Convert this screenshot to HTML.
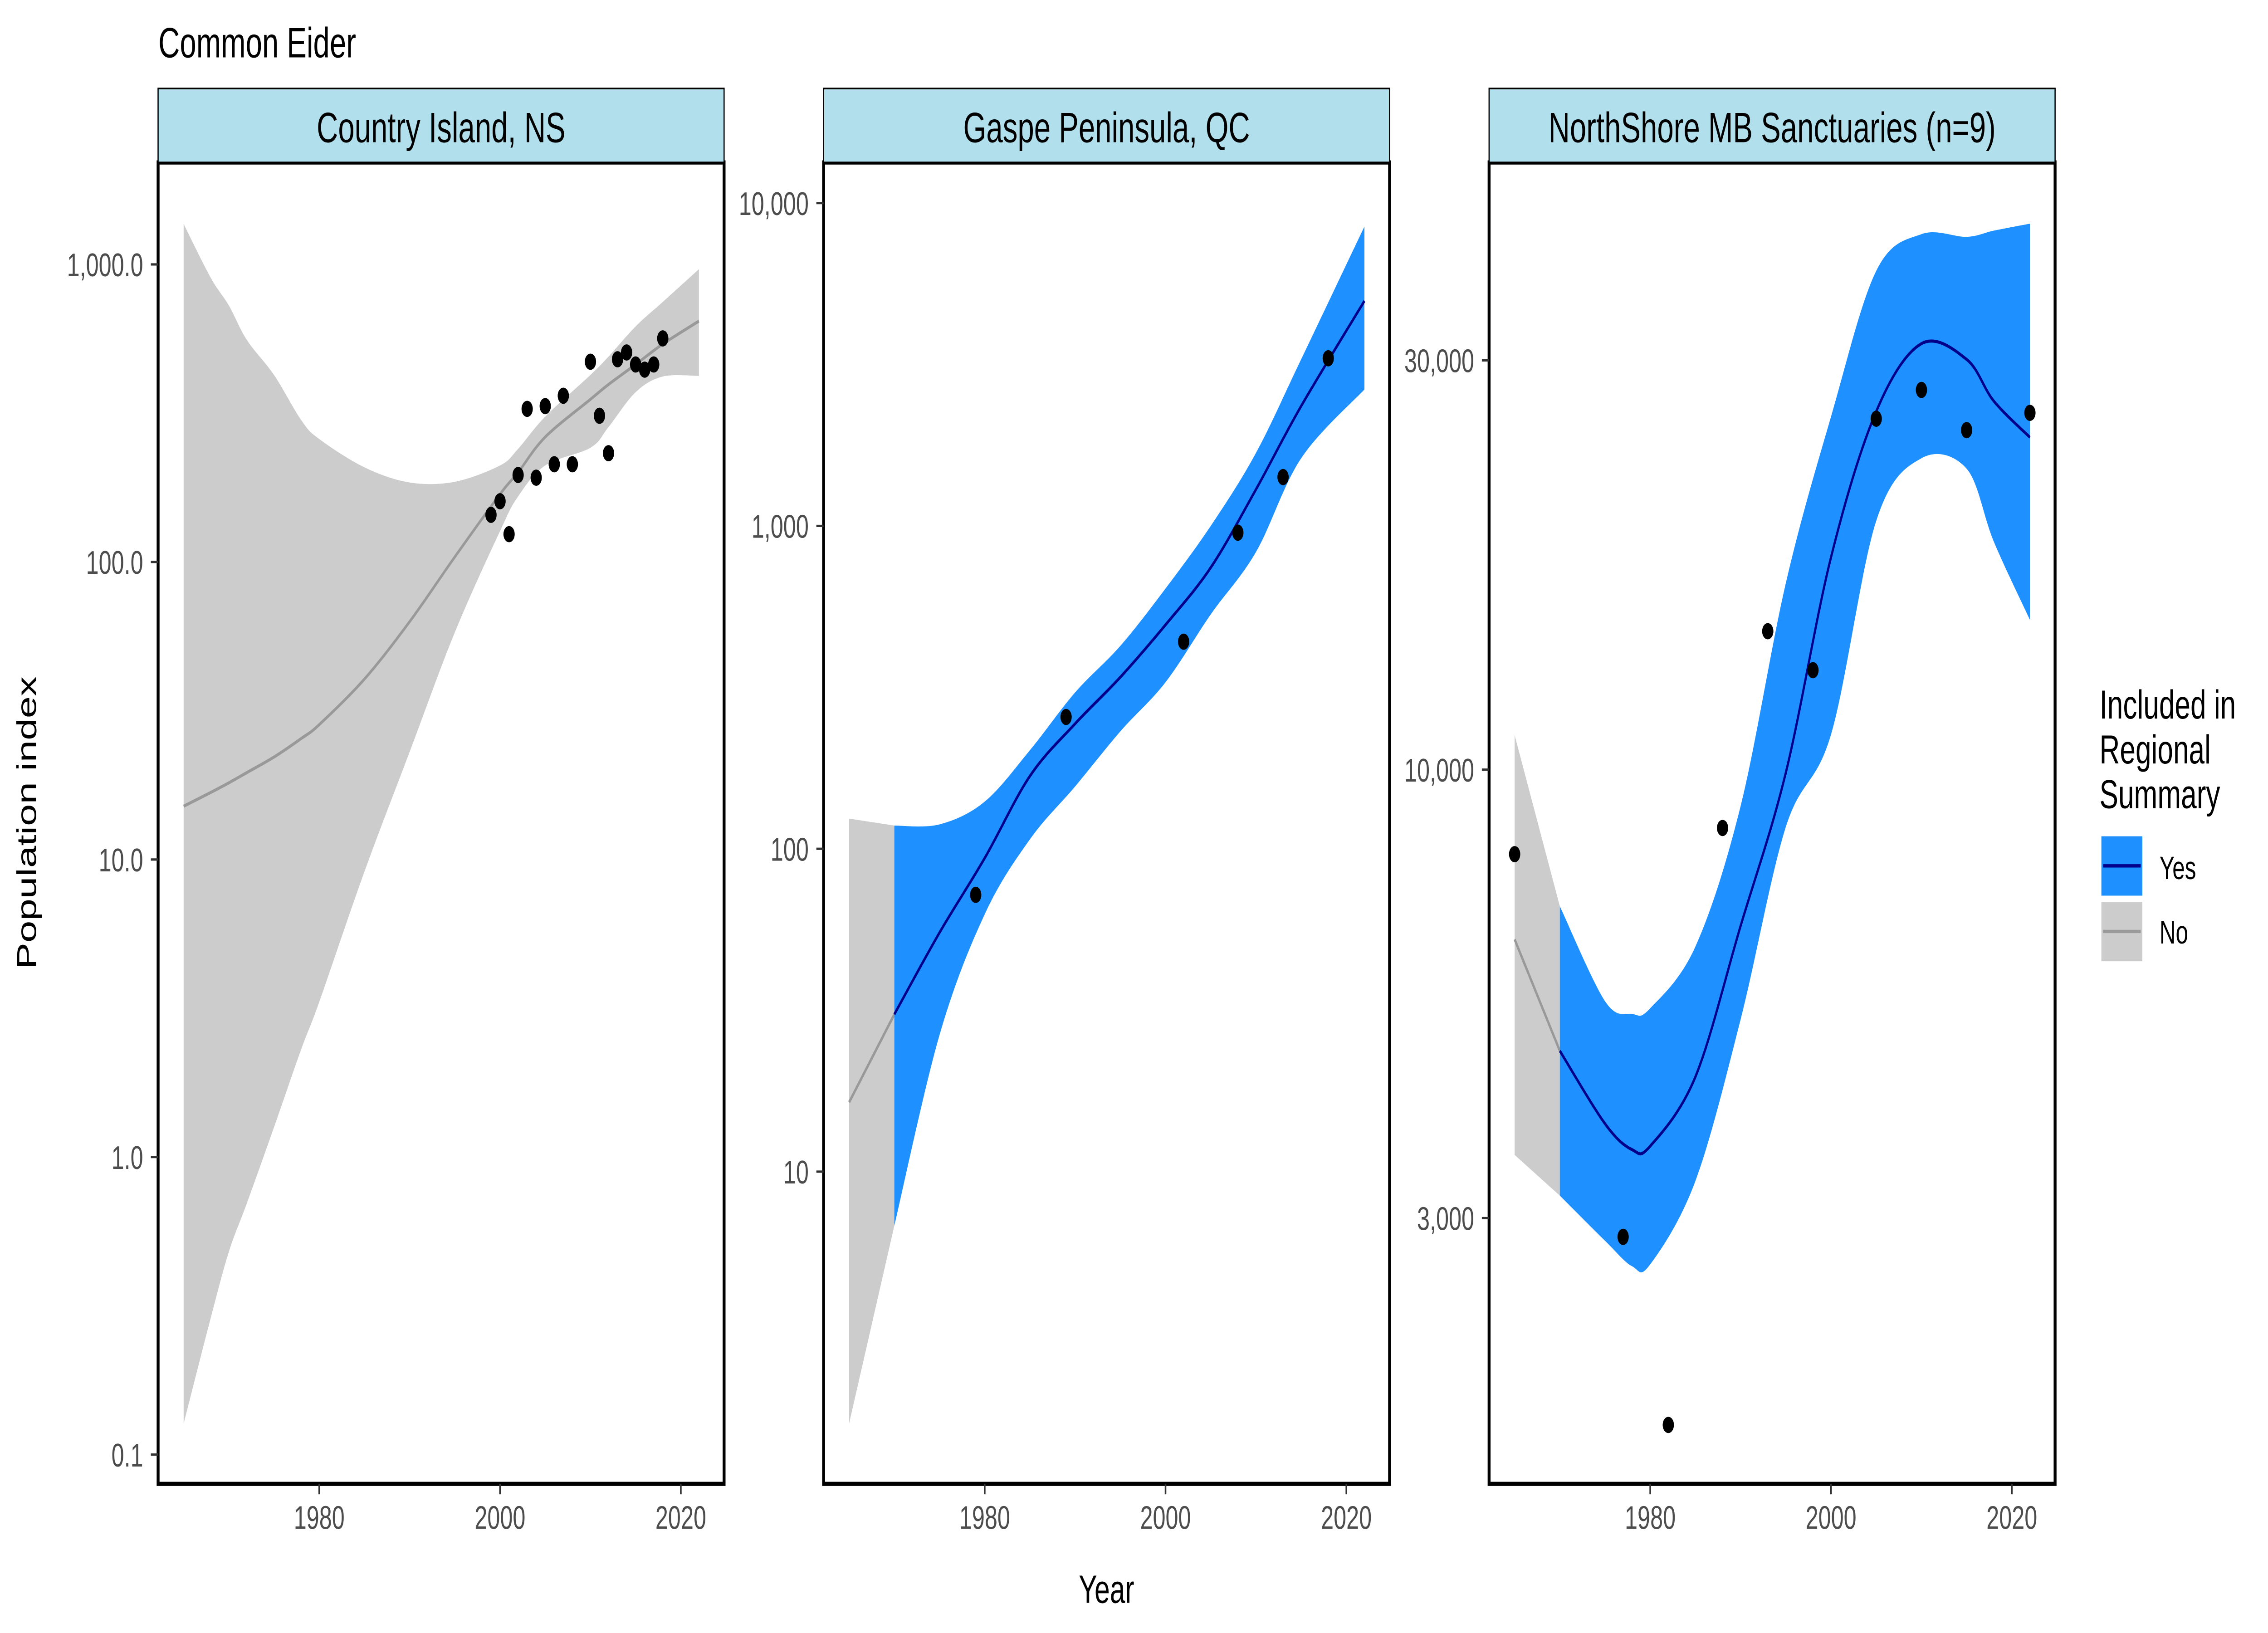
<!DOCTYPE html>
<html><head><meta charset="utf-8"><title>Common Eider</title>
<style>
html,body{margin:0;padding:0;background:#fff;overflow:hidden;width:100vw;height:100vh;}
svg{display:block;width:100vw;height:100vh;font-family:"Liberation Sans",Arial,sans-serif;}
</style></head>
<body>
<svg id="chart" xmlns="http://www.w3.org/2000/svg" viewBox="0 0 1568 784" preserveAspectRatio="none">
<rect x="0" y="0" width="1568" height="784" fill="#ffffff"/>
<text x="109.5" y="27.5" font-size="20.5" fill="#000">Common Eider</text>
<text x="765" y="769.5" font-size="19" text-anchor="middle" fill="#000">Year</text>
<text transform="translate(25,395) rotate(-90)" font-size="19" text-anchor="middle" fill="#000">Population index</text>
<g>
<text x="1451.5" y="345" font-size="19.5" fill="#000">Included in</text>
<text x="1451.5" y="366.5" font-size="19.5" fill="#000">Regional</text>
<text x="1451.5" y="388" font-size="19.5" fill="#000">Summary</text>
<g>
<rect x="1452.8" y="401.5" width="28.3" height="28.5" fill="#1E90FF"/>
<line x1="1454" y1="415.7" x2="1480" y2="415.7" stroke="#00008B" stroke-width="1.6"/>
<text x="1493" y="422" font-size="15.5" fill="#000">Yes</text>
</g>
<g>
<rect x="1452.8" y="433" width="28.3" height="28.5" fill="#CCCCCC"/>
<line x1="1454" y1="447.2" x2="1480" y2="447.2" stroke="#999999" stroke-width="1.6"/>
<text x="1493" y="453" font-size="15.5" fill="#000">No</text>
</g>
</g>
</svg>
<script>
// ---------- Panel 1: Country Island, NS ----------
const p1Years = [1965,1968,1970,1972,1975,1978,1980,1985,1990,1995,2000,2002,2005,2010,2012,2015,2018,2022];
const p1Fit   = [15.1,16.8,18.1,19.6,22.1,25.5,28.4,40.4,63,104,169,200,263,352,395,461,540,645];
const p1Upper = [1368,902,728,557,425,300,259,208,185,186,211,240,308,425,490,619,748,964];
const p1Lower = [0.127,0.288,0.48,0.70,1.26,2.3,3.32,9.1,23,58,127,166,211,242,284,372,420,422];
const p1PtYears = [1999,2000,2001,2002,2003,2004,2005,2006,2007,2008,2010,2011,2012,2013,2014,2015,2016,2017,2018];
const p1PtVals  = [144,160,124,196,327,192,334,213,362,213,471,310,232,480,506,461,443,461,564];
const p1TickVals = [0.1,1,10,100,1000];
const p1TickLabels = ["0.1","1.0","10.0","100.0","1,000.0"];

// ---------- Panel 2: Gaspe Peninsula, QC ----------
const p2Years = [1965,1970,1975,1980,1985,1990,1995,2000,2005,2010,2015,2022];
const p2Fit   = [16.4,30.7,55,93.6,168,244,340,494,743,1297,2350,4975];
const p2Upper = [124,118,119,140,202,305,425,640,1000,1683,3281,8460];
const p2Lower = [1.66,6.8,26.5,62.7,107,156,231,328,532,830,1620,2646];
const p2PtYears = [1979,1989,2002,2008,2013,2018];
const p2PtVals  = [72,256,438,953,1417,3306];
const p2TickVals = [10,100,1000,10000];
const p2TickLabels = ["10","100","1,000","10,000"];

// ---------- Panel 3: NorthShore MB Sanctuaries ----------
const p3Years = [1965,1970,1975,1978,1980,1985,1990,1995,2000,2005,2010,2015,2018,2022];
const p3Fit   = [6340,4700,3865,3605,3640,4385,6575,9920,17690,26160,31380,30080,26900,24400];
const p3Upper = [10970,6930,5370,5190,5270,6220,9070,16500,25800,38150,42100,41800,42500,43300];
const p3Lower = [3555,3187,2823,2636,2650,3315,5115,8575,10990,19500,23070,22430,18450,14950];
const p3PtYears = [1965,1977,1982,1988,1993,1998,2005,2010,2015,2022];
const p3PtVals  = [7970,2853,1722,8550,14500,13060,25650,27710,24880,26060];
const p3TickVals = [3000,10000,30000];
const p3TickLabels = ["3,000","10,000","30,000"];

const xTickVals = [1980,2000,2020];
const stripTitles = ["Country Island, NS","Gaspe Peninsula, QC","NorthShore MB Sanctuaries (n=9)"];

const NS = "http://www.w3.org/2000/svg";
const svg = document.getElementById("chart");
const PANEL_TOP = 78, PANEL_BOTTOM = 712.4, PANEL_W = 391.3, STRIP_TOP = 42.5;

function el(tag, attrs, parent){
  const e = document.createElementNS(NS, tag);
  for (const k in attrs) e.setAttribute(k, attrs[k]);
  (parent || svg).appendChild(e);
  return e;
}
function smoothPath(pts, start){
  let d = (start ? "M" : "L") + pts[0][0].toFixed(2) + "," + pts[0][1].toFixed(2);
  for (let i = 0; i < pts.length - 1; i++){
    const p0 = pts[i-1] || pts[i], p1 = pts[i], p2 = pts[i+1], p3 = pts[i+2] || pts[i+1];
    const c1x = p1[0] + (p2[0]-p0[0])/6, c1y = p1[1] + (p2[1]-p0[1])/6;
    const c2x = p2[0] - (p3[0]-p1[0])/6, c2y = p2[1] - (p3[1]-p1[1])/6;
    d += "C" + c1x.toFixed(2)+","+c1y.toFixed(2)+" "+c2x.toFixed(2)+","+c2y.toFixed(2)+" "+p2[0].toFixed(2)+","+p2[1].toFixed(2);
  }
  return d;
}

const panels = [
  {left:109.3, yFn:v => 555.5 - 142.85*Math.log10(v), years:p1Years, fit:p1Fit, up:p1Upper, lo:p1Lower, px:p1PtYears, pv:p1PtVals, tv:p1TickVals, tl:p1TickLabels, split:null},
  {left:569.4, yFn:v => 252.5 - 155*(Math.log10(v)-3), years:p2Years, fit:p2Fit, up:p2Upper, lo:p2Lower, px:p2PtYears, pv:p2PtVals, tv:p2TickVals, tl:p2TickLabels, split:1970},
  {left:1029.5, yFn:v => 369.5 - 411.8*(Math.log10(v)-4), years:p3Years, fit:p3Fit, up:p3Upper, lo:p3Lower, px:p3PtYears, pv:p3PtVals, tv:p3TickVals, tl:p3TickLabels, split:1970}
];

panels.forEach((P, pi) => {
  const xFn = yr => P.left + 236.4 + 6.25*(yr - 2000);
  const g = el("g", {});
  
  

  const clip = el("clipPath", {id:"clip"+pi}, g);
  el("rect", {x:P.left, y:PANEL_TOP, width:PANEL_W, height:PANEL_BOTTOM-PANEL_TOP}, clip);
  const body = el("g", {"clip-path":"url(#clip"+pi+")"}, g);

  function segment(idx, fill, stroke, nameSuffix){
    if (idx.length < 2) return;
    const upPts = idx.map(i => [xFn(P.years[i]), P.yFn(P.up[i])]);
    const loPts = idx.map(i => [xFn(P.years[i]), P.yFn(P.lo[i])]).reverse();
    const rib = el("path", {d: smoothPath(upPts, true) + smoothPath(loPts, false) + "Z", fill: fill, stroke: "none"}, body);
    
    
    const fitPts = idx.map(i => [xFn(P.years[i]), P.yFn(P.fit[i])]);
    const ln = el("path", {d: smoothPath(fitPts, true), fill:"none", stroke: stroke, "stroke-width": 1.5}, body);
    
    
  }
  const all = P.years.map((y,i)=>i);
  if (P.split === null){
    segment(all, "#CCCCCC", "#999999", "no");
  } else {
    segment(all.filter(i => P.years[i] <= P.split), "#CCCCCC", "#999999", "no");
    segment(all.filter(i => P.years[i] >= P.split), "#1E90FF", "#00008B", "yes");
  }
  P.px.forEach((yr, i) => {
    const c = el("circle", {cx: xFn(yr), cy: P.yFn(P.pv[i]), r: 3.9, fill:"#000"}, body);
    
    
  });

  const b = el("rect", {x:P.left, y:PANEL_TOP, width:PANEL_W, height:PANEL_BOTTOM-PANEL_TOP, fill:"none", stroke:"#000", "stroke-width":2}, g);
  
  

  const s = el("rect", {x:P.left, y:STRIP_TOP, width:PANEL_W, height:PANEL_TOP-STRIP_TOP, fill:"#B2DFEC", stroke:"#000", "stroke-width":0.8}, g);
  
  
  const st = el("text", {x:P.left + PANEL_W/2, y:68.3, "font-size":20.5, "text-anchor":"middle", fill:"#000"}, g);
  st.textContent = stripTitles[pi];
  
  

  P.tv.forEach((v, i) => {
    const y = P.yFn(v);
    const t = el("line", {x1:P.left-5, x2:P.left, y1:y, y2:y, stroke:"#333", "stroke-width":1.1}, g);
    
    
    const lb = el("text", {x:P.left-10.3, y:y+5.7, "font-size":15.8, "text-anchor":"end", fill:"#4D4D4D"}, g);
    lb.textContent = P.tl[i];
    
    
  });
  xTickVals.forEach(yr => {
    const x = xFn(yr);
    const t = el("line", {x1:x, x2:x, y1:PANEL_BOTTOM, y2:PANEL_BOTTOM+5, stroke:"#333", "stroke-width":1.1}, g);
    
    
    const lb = el("text", {x:x, y:734, "font-size":15.8, "text-anchor":"middle", fill:"#4D4D4D"}, g);
    lb.textContent = String(yr);
    
    
  });
});
</script>
</body></html>
